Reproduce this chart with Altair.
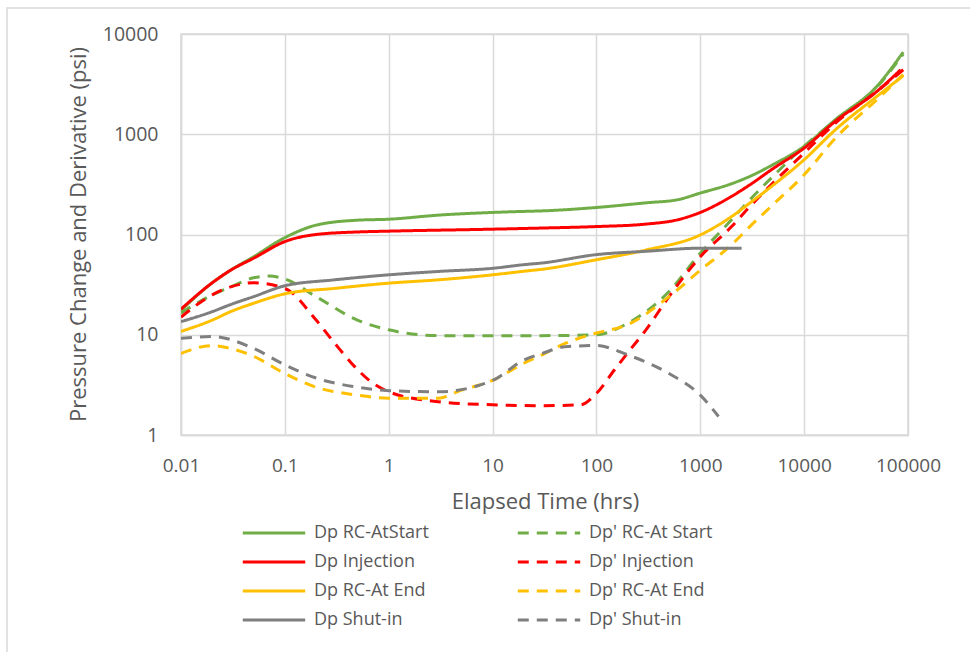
import altair as alt
import pandas as pd

# ---- data (elapsed time in hrs, pressure in psi) ----
series_names = ["Dp RC-AtStart", "Dp Injection", "Dp RC-At End", "Dp Shut-in",
                "Dp' RC-At Start", "Dp' Injection", "Dp' RC-At End", "Dp' Shut-in"]
series_colors = ["#70AD47", "#FF0000", "#FFC000", "#7F7F7F",
                 "#70AD47", "#FF0000", "#FFC000", "#7F7F7F"]

t_start = [0.01, 0.02, 0.03, 0.05, 0.1, 0.2, 0.5, 1, 3, 10, 20, 30, 100, 300, 600,
           1000, 2000, 3000, 5000, 10000, 20000, 50000, 90000]
dp_start = [17.5, 33, 44, 60, 93, 124, 139, 142, 156, 166, 170, 172, 186, 207, 222,
            259, 321, 380, 497, 758, 1400, 3000, 6600]

t_dstart = [0.01, 0.02, 0.03, 0.05, 0.07, 0.1, 0.2, 0.5, 1, 3, 10, 30, 100, 200, 500,
            1000, 2000, 3000, 5000, 10000, 20000, 50000, 90000]
ddp_start = [16.5, 25, 30, 37, 38.5, 36, 24, 14, 11.2, 9.8, 9.8, 9.8, 10, 13, 27,
             65, 140, 222, 380, 760, 1380, 2950, 6300]

t_inj = [0.01, 0.02, 0.03, 0.05, 0.1, 0.2, 0.5, 1, 10, 30, 100, 300, 600, 1000, 2000,
         3000, 5000, 10000, 20000, 50000, 85000]
dp_inj = [18, 33, 44, 58, 85, 100, 106, 108, 113, 116, 120, 127, 140, 166, 240,
          313, 453, 728, 1350, 2670, 4400]

t_dinj = [0.01, 0.02, 0.03, 0.05, 0.1, 0.2, 0.3, 0.5, 0.7, 1, 3, 10, 30, 70, 100, 150,
          200, 300, 500, 1000, 2000, 3000, 5000, 10000, 20000, 50000, 90000]
ddp_inj = [15, 25, 30, 33, 29, 14, 8.3, 4.5, 3.3, 2.7, 2.15, 2.0, 1.96, 2.0, 2.6, 4.5,
           6.6, 11.2, 24, 60, 120, 190, 326, 650, 1290, 2670, 4400]

t_end = [0.01, 0.02, 0.03, 0.05, 0.1, 0.3, 1, 3, 10, 20, 30, 100, 300, 1000, 2000,
         3000, 5000, 10000, 20000, 50000, 90000]
dp_end = [10.8, 14, 17, 20.6, 25.6, 29, 32.7, 35.3, 39.6, 43, 45, 56, 70, 99, 151,
          206, 309, 557, 1109, 2380, 3840]

t_dend = [0.01, 0.02, 0.03, 0.05, 0.1, 0.2, 0.5, 1, 3, 5, 10, 20, 30, 50, 100, 200,
          500, 1000, 2000, 3000, 5000, 10000, 20000, 50000, 90000]
ddp_end = [6.5, 7.8, 7.3, 6.1, 4.1, 3.0, 2.5, 2.33, 2.33, 2.8, 3.5, 5.2, 6.3, 8.2, 10.4,
           12.6, 24, 44, 79, 120, 198, 394, 916, 2200, 3930]

t_shut = [0.01, 0.02, 0.03, 0.05, 0.1, 0.3, 1, 3, 10, 20, 30, 100, 300, 1000, 2500]
dp_shut = [13.5, 17, 20, 24, 30.8, 35.3, 39.6, 42.8, 46, 50, 52, 63, 68, 73, 73]

t_dshut = [0.01, 0.02, 0.05, 0.1, 0.2, 0.5, 1, 3, 10, 20, 30, 50, 100, 200, 500,
           1000, 1500]
ddp_shut = [9.2, 9.6, 7.3, 5.0, 3.7, 3.0, 2.77, 2.7, 3.5, 5.6, 6.5, 7.6, 7.8, 6.3, 4.1,
            2.5, 1.53]

x_ticks = [0.01, 0.1, 1, 10, 100, 1000, 10000, 100000]
y_ticks = [1, 10, 100, 1000, 10000]

series_data = [(series_names[0], t_start, dp_start), (series_names[4], t_dstart, ddp_start),
               (series_names[1], t_inj, dp_inj), (series_names[5], t_dinj, ddp_inj),
               (series_names[2], t_end, dp_end), (series_names[6], t_dend, ddp_end),
               (series_names[3], t_shut, dp_shut), (series_names[7], t_dshut, ddp_shut)]

rows = []
for name, ts, vs in series_data:
    for i, (t, v) in enumerate(zip(ts, vs)):
        rows.append({"series": name, "t": t, "v": v, "idx": i})
df = pd.DataFrame(rows)

dash_range = [[1, 0] if "'" not in n else [11, 8] for n in series_names]

FONT = "Open Sans"
GREY = "#595959"

legend_def = alt.Legend(
    title=None, orient="none", legendX=60, legendY=489, columns=2,
    symbolType="stroke", symbolSize=3900, symbolStrokeWidth=3,
    labelFontSize=18, labelFont=FONT, labelColor=GREY, labelOffset=7,
    clipHeight=20, rowPadding=9, columnPadding=87, labelLimit=300,
)

lines = alt.Chart(df).mark_line(strokeWidth=3, interpolate="monotone", clip=True).encode(
    x=alt.X("t:Q",
            scale=alt.Scale(type="log", domain=[0.01, 100000], nice=False),
            axis=alt.Axis(values=x_ticks, format="~g", title="Elapsed Time (hrs)",
                          ticks=False, labelPadding=21, labelFontSize=19,
                          labelFlush=False, labelOverlap=False,
                          titleX=364, titleY=66, titleBaseline="middle",
                          titleAlign="center", titleFontSize=22)),
    y=alt.Y("v:Q",
            scale=alt.Scale(type="log", domain=[1, 10000], nice=False),
            axis=alt.Axis(values=y_ticks, format="~g",
                          title="Pressure Change and Derivative (psi)",
                          ticks=False, labelPadding=23, labelFontSize=19.5,
                          labelFlush=False, labelOverlap=False,
                          titleX=-103, titleY=200, titleAngle=270,
                          titleAlign="center", titleBaseline="middle",
                          titleFontSize=22)),
    color=alt.Color("series:N", scale=alt.Scale(domain=series_names, range=series_colors),
                    legend=legend_def),
    strokeDash=alt.StrokeDash("series:N", scale=alt.Scale(domain=series_names, range=dash_range),
                              legend=legend_def),
    order="idx:Q",
)

frame = alt.Chart(pd.DataFrame({"k": [0]})).mark_rect(
    fillOpacity=0, stroke="#D9D9D9", strokeWidth=1.5
).encode(x=alt.value(-174), x2=alt.value(800), y=alt.value(-26), y2=alt.value(640))

chart = alt.layer(frame, lines).properties(
    width=727, height=401,
    padding={"left": 181, "top": 34, "right": 62, "bottom": 217},
    autosize=alt.AutoSizeParams(type="none"),
    background="white",
).configure_view(
    stroke="#D9D9D9", strokeWidth=1.5
).configure_axis(
    gridColor="#D9D9D9", gridWidth=1.5, domainColor="#D9D9D9", domainWidth=1.5,
    labelColor=GREY, titleColor=GREY, labelFont=FONT, titleFont=FONT,
    titleFontWeight="normal",
)

chart.save("out.html", embed_options={"renderer": "svg", "actions": False})
